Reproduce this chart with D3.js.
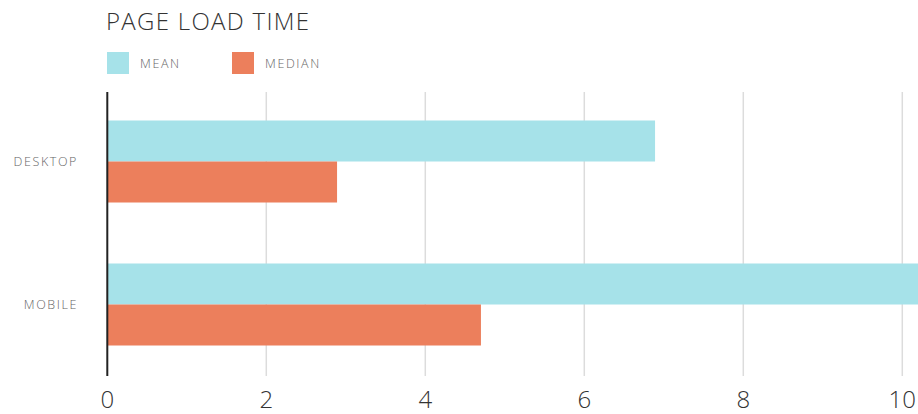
<!DOCTYPE html>
<html><head><meta charset="utf-8">
<script src="https://cdn.jsdelivr.net/npm/d3@7"></script>
<style>
html,body{margin:0;padding:0;background:#fff;overflow:hidden}
text{font-family:"Open Sans",sans-serif}
</style></head>
<body>
<svg id="chart" width="918" height="414"></svg>
<script>
const categories = ["DESKTOP", "MOBILE"];
const seriesNames = ["MEAN", "MEDIAN"];
const meanValues = [6.89, 10.5];
const medianValues = [2.89, 4.70];
const tickValues = [0, 2, 4, 6, 8, 10];
const title = "PAGE LOAD TIME";

const colors = {MEAN: "#a6e2e9", MEDIAN: "#ec7f5c"};
const svg = d3.select("#chart");

const x = d3.scaleLinear().domain([0, 10]).range([107.3, 902.3]);
const y = d3.scaleBand().domain(categories).range([90, 376]).paddingInner(61/143).paddingOuter(30.5/143);
const ySub = d3.scaleBand().domain(seriesNames).range([0, y.bandwidth()]);

// gridlines
svg.append("g").selectAll("line").data(tickValues.filter(d => d > 0)).join("line")
  .attr("x1", d => x(d)).attr("x2", d => x(d))
  .attr("y1", 92).attr("y2", 376)
  .attr("stroke", "#dcdcdc").attr("stroke-width", 1.5);

// tick labels
svg.append("g").selectAll("text").data(tickValues).join("text")
  .attr("x", d => x(d)).attr("y", 408)
  .attr("text-anchor", "middle")
  .attr("font-size", 24).attr("font-weight", 300).attr("fill", "#333")
  .text(d => d);

// bars
const rows = categories.map((c, i) => ({cat: c, vals: [
  {s: "MEAN", v: meanValues[i]}, {s: "MEDIAN", v: medianValues[i]}]}));
const g = svg.append("g").selectAll("g").data(rows).join("g")
  .attr("transform", d => `translate(0,${y(d.cat)})`);
g.selectAll("rect").data(d => d.vals).join("rect")
  .attr("x", x(0)).attr("y", d => ySub(d.s))
  .attr("width", d => x(d.v) - x(0)).attr("height", ySub.bandwidth())
  .attr("fill", d => colors[d.s]);

// category labels
svg.append("g").selectAll("text").data(categories).join("text")
  .attr("x", 78).attr("y", d => y(d) + y.bandwidth()/2 + 4.5)
  .attr("text-anchor", "end")
  .attr("font-size", 12.5).attr("font-weight", 300).attr("fill", "#666")
  .attr("letter-spacing", 1.6)
  .text(d => d);

// axis line
svg.append("line").attr("x1", x(0)).attr("x2", x(0)).attr("y1", 92).attr("y2", 376)
  .attr("stroke", "#222").attr("stroke-width", 2);

// title
svg.append("text").attr("x", 106).attr("y", 30)
  .attr("font-size", 24).attr("font-weight", 300).attr("fill", "#333")
  .attr("letter-spacing", 1.3)
  .text(title);

// legend
const legX = [107, 232];
const leg = svg.append("g").selectAll("g").data(seriesNames).join("g")
  .attr("transform", (d, i) => `translate(${legX[i]},52)`);
leg.append("rect").attr("width", 22).attr("height", 22).attr("fill", d => colors[d]);
leg.append("text").attr("x", 33).attr("y", 15.5)
  .attr("font-size", 12.5).attr("font-weight", 300).attr("fill", "#666")
  .attr("letter-spacing", 1.6)
  .text(d => d);
</script>
</body></html>
